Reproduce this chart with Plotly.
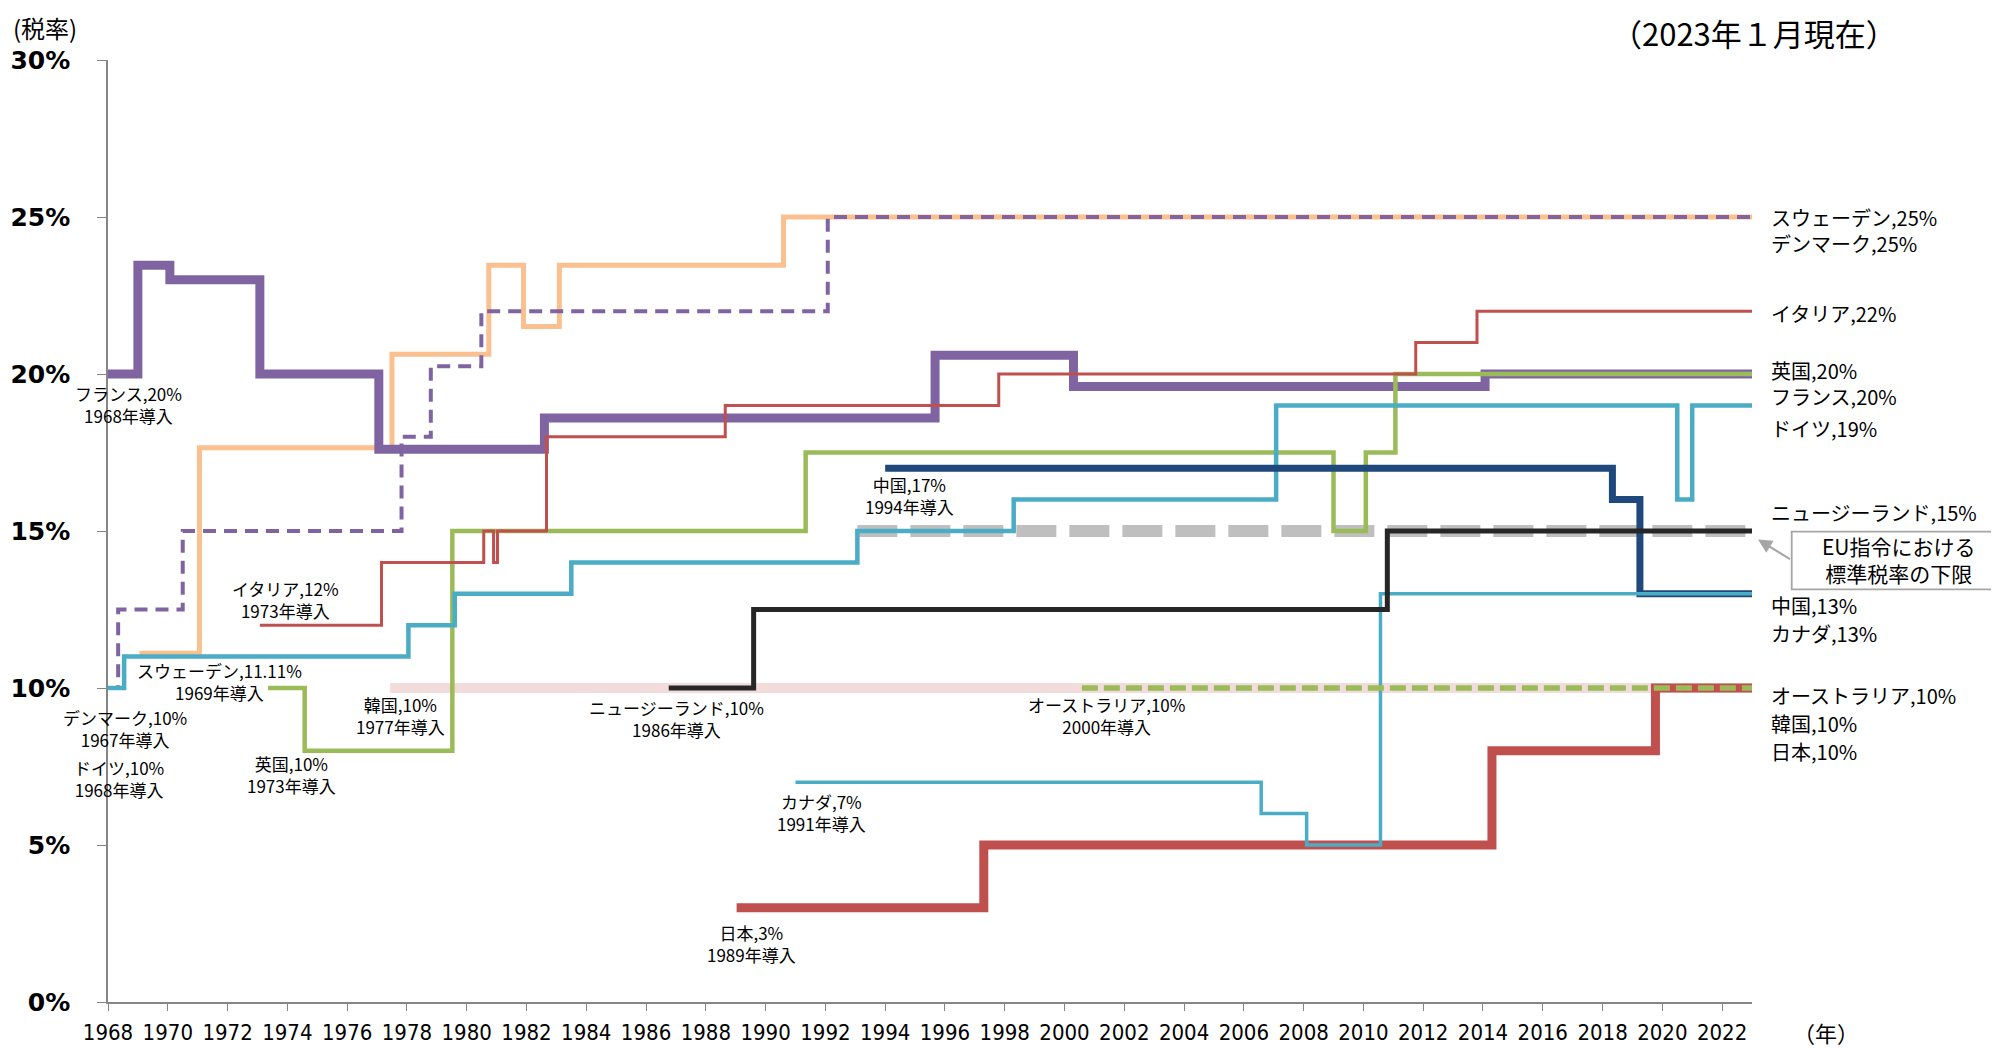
import plotly.graph_objects as go

# ---------------- data (year of change, VAT rate %) ----------------
korea_x = [1977.44, 2023]
korea_y = [10, 10]

eu_min_x = [1993.07, 2023]
eu_min_y = [15, 15]

sweden_x = [1969.05, 1971.06, 1977.5, 1980.74, 1981.9, 1983.1, 1990.6, 2023]
sweden_y = [11.11, 17.65, 20.63, 23.46, 21.51, 23.46, 25, 25]

denmark_x = [1968.0, 1968.34, 1970.5, 1977.82, 1978.8, 1980.49, 1992.08, 2023]
denmark_y = [10, 12.5, 15, 18, 20.25, 22, 25, 25]

france_x = [1968.0, 1969.0, 1970.07, 1973.08, 1977.06, 1982.6, 1995.67, 2000.3, 2014.07, 2023]
france_y = [20, 23.46, 23, 20, 17.6, 18.6, 20.6, 19.6, 20, 20]

uk_x = [1973.35, 1974.58, 1979.52, 1991.34, 2009.0, 2010.08, 2011.07, 2023]
uk_y = [10, 8, 15, 17.5, 15, 17.5, 20, 20]

germany_x = [1968.0, 1968.54, 1978.05, 1979.6, 1983.5, 1993.07, 1998.3, 2007.08, 2020.5, 2021.0, 2023]
germany_y = [10, 11, 12, 13, 14, 15, 16, 19, 16, 19, 19]

italy_x = [1973.08, 1977.15, 1980.57, 1980.9, 1981.03, 1982.67, 1988.65, 1997.8, 2011.75, 2013.8, 2023]
italy_y = [12, 14, 15, 14, 15, 18, 19, 20, 21, 22, 22]

china_x = [1994.0, 2018.33, 2019.25, 2023]
china_y = [17, 16, 13, 13]

japan_x = [1989.03, 1997.3, 2014.3, 2019.77, 2023]
japan_y = [3, 5, 8, 10, 10]

canada_x = [1991.0, 2006.58, 2008.1, 2010.57, 2023]
canada_y = [7, 6, 5, 13, 13]

nz_x = [1986.76, 1989.6, 2010.8, 2023]
nz_y = [10, 12.5, 15, 15]

australia_x = [2000.58, 2023]
australia_y = [10, 10]

x_ticks = list(range(1968, 2023, 2))
y_ticks = [0, 5, 10, 15, 20, 25, 30]

# labels: (text, centre-x px, centre-y px)  -- screen pixels
left_labels = [
    ("フランス,20%<br>1968年導入", 128, 404),
    ("デンマーク,10%<br>1967年導入", 124.5, 728),
    ("ドイツ,10%<br>1968年導入", 119, 778),
    ("イタリア,12%<br>1973年導入", 285.5, 599),
    ("スウェーデン,11.11%<br>1969年導入", 219, 681),
    ("英国,10%<br>1973年導入", 291, 774.5),
    ("韓国,10%<br>1977年導入", 400.5, 715),
    ("中国,17%<br>1994年導入", 909.7, 495),
    ("ニュージーランド,10%<br>1986年導入", 676.3, 718.5),
    ("オーストラリア,10%<br>2000年導入", 1106, 715.7),
    ("カナダ,7%<br>1991年導入", 821, 813),
    ("日本,3%<br>1989年導入", 751, 943.6),
]

right_labels = [
    ("スウェーデン,25%<br>デンマーク,25%", 230.5),
    ("イタリア,22%", 313.3),
    ("英国,20%", 370.7),
    ("フランス,20%", 396.7),
    ("ドイツ,19%", 428.3),
    ("ニュージーランド,15%", 512.5),
    ("中国,13%", 605),
    ("カナダ,13%", 633.3),
    ("オーストラリア,10%", 695),
    ("韓国,10%", 723.3),
    ("日本,10%", 751.7),
]

# ---------------- layout geometry ----------------
BODY = 8                      # default body margin of the html page
W_FIG, H_FIG = 1991, 1041
L, R_EDGE, T, B = 108, 1752, 60, 1002   # wanted plot area, screen pixels
PW, PH = R_EDGE - L, B - T


def px(X):
    return (X - L) / PW


def py(Y):
    return (B - Y) / PH


JP = "Noto Sans CJK JP"

fig = go.Figure()


def add(x, y, color, width, dash="solid"):
    fig.add_trace(go.Scatter(
        x=x, y=y, mode="lines", line=dict(color=color, width=width, dash=dash, shape="hv"),
        hoverinfo="skip", showlegend=False, cliponaxis=False))


add(korea_x, korea_y, "#F2DCDB", 10)
add(eu_min_x, eu_min_y, "#BFBFBF", 12, "40px,13px")
add(sweden_x, sweden_y, "#FAC090", 5)
add(denmark_x, denmark_y, "#8064A2", 4, "13px,8px")
add(france_x, france_y, "#8064A2", 9)
add(uk_x, uk_y, "#9BBB59", 4.5)
add(germany_x, germany_y, "#4BACC6", 4.5)
add(italy_x, italy_y, "#C0504D", 3)
add(china_x, china_y, "#1F497D", 7)
add(japan_x, japan_y, "#C0504D", 9)
add(canada_x, canada_y, "#4BACC6", 3.5)
add(nz_x, nz_y, "#262626", 5)
add(australia_x, australia_y, "#9BBB59", 5.5, "16px,6px")

annotations = []
for txt, cx, cy in left_labels:
    annotations.append(dict(
        text=txt, x=px(cx), y=py(cy), xref="paper", yref="paper",
        xanchor="center", yanchor="middle", align="center", showarrow=False, borderpad=0,
        font=dict(family=JP, size=17, color="#000000")))

for txt, cy in right_labels:
    annotations.append(dict(
        text=txt, x=px(1770), y=py(cy), xref="paper", yref="paper",
        xanchor="left", yanchor="middle", align="left", showarrow=False, borderpad=0,
        font=dict(family=JP, size=20, color="#000000")))

# EU callout text
annotations.append(dict(text="EU指令における<br>標準税率の下限", x=px(1899), y=py(559), xref="paper",
                        yref="paper", xanchor="center", yanchor="middle", align="center",
                        showarrow=False, borderpad=0,
                        font=dict(family=JP, size=21, color="#000000")))
# arrow
annotations.append(dict(text="", x=px(1758), y=py(539.5), xref="paper", yref="paper",
                        ax=33.5, ay=20.5, showarrow=True, arrowhead=2, arrowsize=1.4,
                        arrowwidth=2, arrowcolor="#A6A6A6", standoff=0, startstandoff=0))

# titles
annotations.append(dict(text="(税率)", x=px(45), y=py(9), xref="paper", yref="paper",
                        xanchor="center", yanchor="top", showarrow=False, borderpad=0,
                        font=dict(family=JP, size=24, color="#000000")))
annotations.append(dict(text="（2023年１月現在）", x=px(1754), y=py(9), xref="paper", yref="paper",
                        xanchor="center", yanchor="top", showarrow=False, borderpad=0,
                        font=dict(family=JP, size=31, color="#000000")))
annotations.append(dict(text="（年）", x=px(1826), y=py(1032), xref="paper", yref="paper",
                        xanchor="center", yanchor="middle", showarrow=False,
                        font=dict(family=JP, size=22, color="#000000")))

shapes = [dict(type="rect", xref="paper", yref="paper",
               x0=px(1791.7), x1=px(1997), y0=py(589.3), y1=py(531.7),
               line=dict(color="#A6A6A6", width=1.8), fillcolor="white", layer="below")]

fig.update_layout(
    template="none",
    width=W_FIG, height=H_FIG,
    margin=dict(l=L - BODY, r=W_FIG - (R_EDGE - BODY), t=T - BODY, b=H_FIG - (B - BODY), pad=0,
                autoexpand=False),
    paper_bgcolor="white", plot_bgcolor="white",
    font=dict(family=JP, color="#000000"),
    showlegend=False,
    annotations=annotations,
    shapes=shapes,
)
fig.update_xaxes(
    range=[1968, 2023], tickmode="array", tickvals=x_ticks, ticktext=[str(v) for v in x_ticks],
    tickangle=0, showgrid=False, zeroline=False, showline=True, linecolor="#868686", linewidth=1.5,
    ticks="outside", ticklen=7, tickwidth=1.2, tickcolor="#868686", ticklabelstandoff=3,
    automargin=False,
    tickfont=dict(family="DejaVu Sans Condensed, Noto Sans", size=22, color="#000000"),
)
fig.update_yaxes(
    range=[0, 30], tickmode="array", tickvals=y_ticks, ticktext=[f"{v}%" for v in y_ticks],
    showgrid=False, zeroline=False, showline=True, linecolor="#868686", linewidth=1.5,
    ticks="outside", ticklen=9, tickwidth=1.2, tickcolor="#868686", ticklabelstandoff=22,
    automargin=False,
    tickfont=dict(family="DejaVu Sans", size=25, color="#000000", weight="bold"),
)

fig.write_html("out.html")
